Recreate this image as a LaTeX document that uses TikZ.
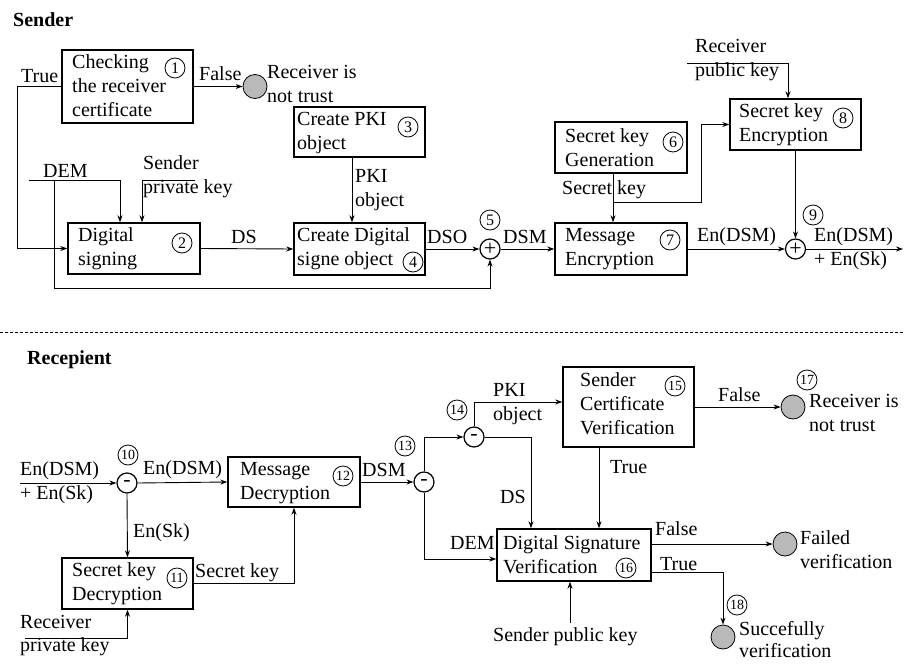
\documentclass[tikz,border=0pt]{standalone}
\usepackage{fontspec}
\setmainfont{Liberation Serif}
\usetikzlibrary{arrows.meta}
\begin{document}
\begin{tikzpicture}[x=1pt,y=-1pt,
  every node/.style={font=\fontsize{20}{24}\selectfont},
  box/.style={draw,line width=1.4pt,inner sep=0pt},
  txt/.style={inner sep=0pt,anchor=west,align=left},
  hdr/.style={inner sep=0pt,anchor=west,font=\fontsize{20}{24}\selectfont\bfseries},
  num/.style={draw,circle,line width=0.8pt,inner sep=0.5pt,minimum size=20pt,font=\fontsize{16}{16}\selectfont},
  numb/.style={draw,circle,line width=0.8pt,inner sep=0pt,minimum size=20pt,font=\fontsize{14}{14}\selectfont},
  op/.style={draw,circle,line width=1.2pt,inner sep=0pt,minimum size=20pt,font=\fontsize{22}{22}\selectfont},
  endc/.style={draw,circle,fill=gray!55,line width=0.8pt,inner sep=0pt,minimum size=24pt},
  conn/.style={line width=0.9pt},
  arr/.style={line width=0.9pt,-{Stealth[length=7pt,width=5pt]}}]
\useasboundingbox (0,0) rectangle (905,664);

% ---------- Sender ----------
\node[hdr] (hsend) at (13,20) {Sender};

\node[box,minimum width=131pt,minimum height=73pt] (b1) at (127.5,86.5) {};
\node[txt] (t1) at (72,86) {Checking\\the receiver\\certificate};
\node[num] (n1) at (175,68) {1};

\node[box,minimum width=132pt,minimum height=51pt] (b2) at (134,248.5) {};
\node[txt] (t2) at (78,249) {Digital\\signing};
\node[num] (n2) at (182,243) {2};

\node[box,minimum width=131pt,minimum height=50pt] (b3) at (359.5,132) {};
\node[txt] (t3) at (297,133) {Create PKI\\object};
\node[num] (n3) at (408,127) {3};

\node[box,minimum width=131pt,minimum height=52pt] (b4) at (359.5,249) {};
\node[txt] (t4) at (297,249) {Create Digital\\signe object};
\node[num] (n4) at (413,262) {4};

\node[box,minimum width=132pt,minimum height=51pt] (b6) at (621,147.5) {};
\node[txt] (t6) at (565,148) {Secret key\\Generation};
\node[num] (n6) at (673,142) {6};

\node[box,minimum width=132pt,minimum height=52pt] (b7) at (621,249) {};
\node[txt] (t7) at (565,249) {Message\\Encryption};
\node[num] (n7) at (670,240) {7};

\node[box,minimum width=131pt,minimum height=51pt] (b8) at (795.5,124.5) {};
\node[txt] (t8) at (739,125) {Secret key\\Encryption};
\node[num] (n8) at (843,118) {8};

\node[op] (p5) at (490,249) {+};
\node[num] (n5) at (490,220) {5};
\node[op] (p9) at (795.5,249) {+};
\node[num] (n9) at (813,215) {9};

\node[endc] (g1) at (255,86.5) {};
\node[txt] (l1) at (267,84) {Receiver is\\not trust};

% sender labels
\node[txt] (lTrue1) at (21,76) {True};
\node[txt] (lFalse1) at (199,74) {False};
\node[txt] (lPKI1) at (355,190) {PKI\\object};
\node[txt] (lDEM1) at (43,171) {DEM};
\node[txt] (lSpk) at (143,177) {Sender\\private key};
\node[txt] (lDS1) at (231,237) {DS};
\node[txt] (lDSO) at (427,237) {DSO};
\node[txt] (lDSM1) at (503,237) {DSM};
\node[txt] (lSk1) at (562,190) {Secret key};
\node[txt] (lRpk) at (695,60) {Receiver\\public key};
\node[txt] (lEn1) at (697,237) {En(DSM)};
\node[txt] (lOut) at (814,249) {En(DSM)\\+ En(Sk)};

\coordinate (demS) at (29,180);
\coordinate (demT) at (54,180);
\coordinate (spkE) at (195,180);
\coordinate (rpk) at (687,63);
\coordinate (skb) at (613,202);
\coordinate (out) at (903,249);

% sender connectors
\draw[arr] (b1.west) -- ++(-44,0) |- (b2.west);
\draw[arr] (b1.east) -- (g1.west);
\draw[arr] (demS) -| ([xshift=-14pt]b2.north);
\draw[arr] (demT) |- ++(436,108) -- (p5.south);
\draw[arr] (spkE) -| ([xshift=8pt]b2.north);
\draw[arr] (b2.east) -- (b4.west);
\draw[arr] ([xshift=-7.5pt]b3.south) -- ([xshift=-7.5pt]b4.north);
\draw[arr] (b4.east) -- (p5.west);
\draw[arr] (p5.east) -- (b7.west);
\draw[arr] ([xshift=-8pt]b6.south) -- ([xshift=-8pt]b7.north);
\draw[arr] (skb) -- ++(88,0) |- (b8.west);
\draw[arr] (rpk) -| ([xshift=-7.5pt]b8.north);
\draw[arr] (b8.south) -- (p9.north);
\draw[arr] (b7.east) -- (p9.west);
\draw[arr] (p9.east) -- (out);

% separator
\coordinate (sepL) at (0,332);
\coordinate (sepR) at (905,332);
\draw[line width=0.8pt,dash pattern=on 3pt off 2pt] (sepL) -- (sepR);

% ---------- Recipient ----------
\node[hdr] (hrec) at (27,360) {Recepient};

\node[box,minimum width=132pt,minimum height=50pt] (b12) at (294,482) {};
\node[txt] (t12) at (240,483) {Message\\Decryption};
\node[numb] (n12) at (343,476) {12};

\node[box,minimum width=131pt,minimum height=51pt] (b11) at (127.5,583.5) {};
\node[txt] (t11) at (72,584) {Secret key\\Decryption};
\node[numb] (n11) at (177,578) {11};

\node[box,minimum width=131pt,minimum height=80pt] (b15) at (628.5,407) {};
\node[txt] (t15) at (580,404) {Sender\\Certificate\\Verification};
\node[numb] (n15) at (675,386) {15};

\node[box,minimum width=154pt,minimum height=52pt] (b16) at (574,555) {};
\node[txt] (t16) at (503,555) {Digital Signature\\Verification};
\node[numb] (n16) at (626,568) {16};

\node[op] (m10) at (127,483) {-};
\node[numb] (n10) at (128,455) {10};
\node[op] (m13) at (424,482) {-};
\node[numb] (n13) at (405,446) {13};
\node[op] (m14) at (474,437) {-};
\node[numb] (n14) at (457,410) {14};

\node[endc] (g17) at (793,407) {};
\node[numb] (n17) at (807,380) {17};
\node[txt] (l17) at (809,413) {Receiver is\\not trust};
\node[endc] (gf) at (785,544) {};
\node[txt] (lf) at (800,550) {Failed\\verification};
\node[endc] (g18) at (723,637) {};
\node[numb] (n18) at (737,605) {18};
\node[txt,font=\fontsize{20}{22}\selectfont] (l18) at (739,640) {Succefully\\verification};

% recipient labels
\node[txt] (lIn) at (20,483) {En(DSM)\\+ En(Sk)};
\node[txt] (lEn2) at (143,470) {En(DSM)};
\node[txt] (lEnSk) at (133,533) {En(Sk)};
\node[txt] (lSk2) at (195,573) {Secret key};
\node[txt,font=\fontsize{20}{23}\selectfont] (lRprk) at (20,636) {Receiver\\private key};
\node[txt] (lDSM2) at (362,470) {DSM};
\node[txt] (lPKI2) at (493,404) {PKI\\object};
\node[txt] (lDS2) at (500,497) {DS};
\node[txt] (lDEM2) at (450,543) {DEM};
\node[txt] (lSpub) at (493,637) {Sender public key};
\node[txt] (lTrue2) at (610,467) {True};
\node[txt] (lFalse2) at (718,395) {False};
\node[txt] (lFalse3) at (655,529) {False};
\node[txt] (lTrue3) at (660,564) {True};

\coordinate (inS) at (20,483);
\coordinate (rprk) at (25,638);
\coordinate (spub) at (570,623);

% recipient connectors
\draw[arr] (inS) -- (m10.west);
\draw[arr] (m10.east) -- (b12.west);
\draw[arr] (m10.south) -- (b11.north);
\draw[arr] (b11.east) -| (b12.south);
\draw[arr] (rprk) -| (b11.south);
\draw[arr] (b12.east) -- (m13.west);
\draw[arr] (m13.north) |- (m14.west);
\draw[arr] (m14.north) |- ([yshift=5pt]b15.west);
\draw[arr] (m14.east) -| ([xshift=-43pt]b16.north);
\draw[arr] (m13.south) |- ([yshift=-4pt]b16.west);
\draw[arr] (spub) -- ([xshift=-4pt]b16.south);
\draw[arr] ([xshift=-29.5pt]b15.south) -- ([xshift=25pt]b16.north);
\draw[arr] (b15.east) -- (g17.west);
\draw[arr] ([yshift=11pt]b16.east) -- (gf.west);
\draw[arr] ([yshift=-17pt]b16.east) -| (g18.north);
\end{tikzpicture}
\end{document}
